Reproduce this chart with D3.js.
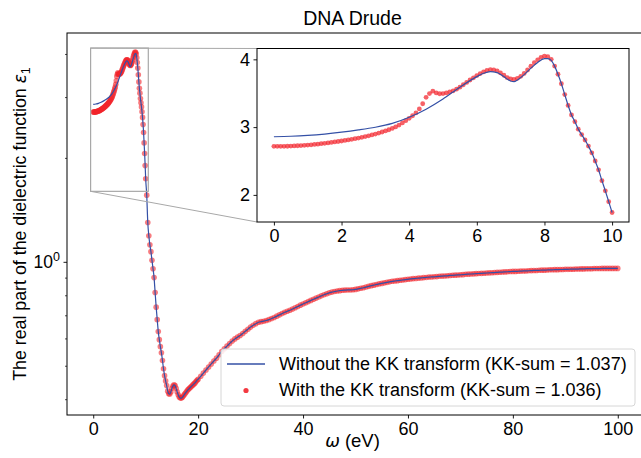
<!DOCTYPE html>
<html><head><meta charset="utf-8">
<script src="https://cdn.jsdelivr.net/npm/d3@7"></script>
<style>body{margin:0;background:#fff} svg{display:block} text{font-family:"Liberation Sans",Arial,sans-serif;fill:#000}</style>
</head><body><svg id="c" width="641" height="458"></svg>
<script>
const titleText = "DNA Drude";
const xTicks = [0, 20, 40, 60, 80, 100];
const yMajorTicks = [1];
const yMinorTicks = [0.4, 0.5, 0.6, 0.7, 0.8, 0.9, 2, 3, 4];
const insetXTicks = [0, 2, 4, 6, 8, 10];
const insetYTicks = [2, 3, 4];
const legendLabels = ["Without the KK transform (KK-sum = 1.037)", "With the KK transform (KK-sum = 1.036)"];

// With KK transform (dots)
const kkEnergy = [
 0.0,0.1,0.2,0.3,0.4,0.5,0.6,0.7,0.8,0.9,1.0,1.1,1.2,1.3,1.4,1.5,1.6,1.7,1.8,1.9,
 2.0,2.1,2.2,2.3,2.4,2.5,2.6,2.7,2.8,2.9,3.0,3.1,3.2,3.3,3.4,3.5,3.6,3.7,3.8,3.9,
 4.0,4.1,4.2,4.3,4.4,4.5,4.6,4.7,4.8,4.9,5.0,5.1,5.2,5.3,5.4,5.5,5.6,5.7,5.8,5.9,
 6.0,6.1,6.2,6.3,6.4,6.5,6.6,6.7,6.8,6.9,7.0,7.1,7.2,7.3,7.4,7.5,7.6,7.7,7.8,7.9,
 8.0,8.1,8.2,8.3,8.4,8.5,8.6,8.7,8.8,8.9,9.0,9.1,9.2,9.3,9.4,9.5,9.6,9.7,9.8,9.9,
 10.0,10.2,10.4,10.6,10.8,11.0,11.2,11.4,11.6,11.8,12.0,12.2,12.4,12.6,12.8,13.0,13.2,13.4,13.6,13.8,
 14.0,14.2,14.4,14.6,14.8,15.0,15.2,15.4,15.6,15.8,16.0,16.2,16.4,16.6,16.8,17.0,17.2,17.4,17.6,17.8,
 18.0,18.2,18.4,18.6,18.8,19.0,19.2,19.4,19.6,19.8,
 20.0,20.5,21.0,21.5,22.0,22.5,23.0,23.5,24.0,24.5,25.0,25.5,26.0,26.5,27.0,27.5,28.0,28.5,29.0,29.5,
 30.0,30.5,31.0,31.5,32.0,32.5,33.0,33.5,34.0,34.5,35.0,35.5,36.0,36.5,37.0,37.5,38.0,38.5,39.0,39.5,
 40.0,40.5,41.0,41.5,42.0,42.5,43.0,43.5,44.0,44.5,45.0,45.5,46.0,46.5,47.0,47.5,48.0,48.5,49.0,49.5,
 50.0,50.5,51.0,51.5,52.0,52.5,53.0,53.5,54.0,54.5,55.0,55.5,56.0,56.5,57.0,57.5,58.0,58.5,59.0,59.5,
 60.0,60.5,61.0,61.5,62.0,62.5,63.0,63.5,64.0,64.5,65.0,65.5,66.0,66.5,67.0,67.5,68.0,68.5,69.0,69.5,
 70.0,70.5,71.0,71.5,72.0,72.5,73.0,73.5,74.0,74.5,75.0,75.5,76.0,76.5,77.0,77.5,78.0,78.5,79.0,79.5,
 80.0,80.5,81.0,81.5,82.0,82.5,83.0,83.5,84.0,84.5,85.0,85.5,86.0,86.5,87.0,87.5,88.0,88.5,89.0,89.5,
 90.0,90.5,91.0,91.5,92.0,92.5,93.0,93.5,94.0,94.5,95.0,95.5,96.0,96.5,97.0,97.5,98.0,98.5,99.0,99.5,
 100.0];
const kkEps = [
 2.716,2.716,2.717,2.717,2.718,2.720,2.722,2.725,2.728,2.731,2.735,2.739,2.744,2.749,2.755,2.761,2.767,2.774,2.781,2.788,
 2.795,2.803,2.811,2.820,2.829,2.839,2.849,2.860,2.872,2.885,2.898,2.912,2.928,2.944,2.961,2.980,3.003,3.030,3.062,3.095,
 3.130,3.168,3.210,3.268,3.345,3.440,3.495,3.530,3.505,3.492,3.495,3.505,3.518,3.535,3.560,3.590,3.625,3.660,3.695,3.728,
 3.760,3.790,3.815,3.838,3.848,3.846,3.830,3.800,3.765,3.730,3.710,3.705,3.720,3.750,3.792,3.843,3.898,3.950,3.993,4.030,
 4.048,4.040,4.000,3.900,3.780,3.640,3.480,3.320,3.180,3.080,2.970,2.890,2.810,2.720,2.620,2.500,2.370,2.210,2.060,1.900,
 1.740,1.560,1.300,1.190,1.120,1.070,1.010,0.955,0.900,0.815,0.739,0.680,0.628,0.595,0.568,0.545,0.518,0.490,0.468,0.452,
 0.438,0.422,0.415,0.414,0.420,0.430,0.437,0.440,0.438,0.430,0.420,0.412,0.406,0.403,0.403,0.405,0.409,0.413,0.417,0.421,
 0.425,0.428,0.431,0.434,0.437,0.440,0.443,0.446,0.450,0.454,
 0.457,0.466,0.476,0.486,0.496,0.506,0.516,0.526,0.538,0.550,0.560,0.570,0.580,0.590,0.598,0.605,0.612,0.620,0.629,0.638,
 0.647,0.655,0.662,0.668,0.671,0.673,0.676,0.680,0.685,0.690,0.696,0.702,0.708,0.714,0.719,0.724,0.730,0.736,0.742,0.749,
 0.755,0.761,0.767,0.773,0.779,0.785,0.791,0.797,0.803,0.808,0.813,0.817,0.820,0.823,0.825,0.827,0.828,0.829,0.829,0.830,
 0.832,0.835,0.838,0.841,0.845,0.849,0.853,0.856,0.860,0.863,0.866,0.869,0.872,0.875,0.878,0.880,0.882,0.884,0.886,0.888,
 0.890,0.892,0.894,0.895,0.897,0.898,0.900,0.901,0.903,0.904,0.905,0.906,0.908,0.909,0.910,0.911,0.913,0.914,0.915,0.916,
 0.917,0.918,0.920,0.921,0.922,0.923,0.924,0.925,0.926,0.927,0.928,0.929,0.930,0.931,0.932,0.933,0.934,0.935,0.936,0.937,
 0.938,0.938,0.939,0.940,0.941,0.941,0.942,0.943,0.944,0.944,0.945,0.946,0.946,0.947,0.948,0.948,0.949,0.949,0.950,0.950,
 0.951,0.951,0.952,0.952,0.953,0.953,0.954,0.954,0.955,0.955,0.955,0.956,0.956,0.956,0.957,0.957,0.957,0.957,0.957,0.957,
 0.957];

// Without KK transform (line), low-energy part where it differs from the dots
const noKkEnergy = [0.0,0.5,1.0,1.5,2.0,2.5,3.0,3.5,4.0,4.5,5.0,5.5,6.0,6.2,6.4,6.6,6.8,7.0,7.1,7.2,7.4,7.6,7.8,8.0,8.1,8.2];
const noKkEps    = [2.858,2.865,2.878,2.898,2.925,2.958,2.998,3.055,3.145,3.265,3.415,3.590,3.745,3.795,3.820,3.805,3.745,3.680,3.672,3.695,3.775,3.870,3.955,4.010,4.012,3.985];

const kkData = kkEnergy.map((e, i) => ({e, v: kkEps[i]}));
const noKkData = noKkEnergy.map((e, i) => ({e, v: noKkEps[i]}))
  .concat(kkData.filter(d => d.e > 8.25));

const blue = "#3450a6", red = "#f2242c";
const FONT = '"Liberation Sans",Arial,sans-serif';
const svg = d3.select("#c");

// ---------- main axes ----------
const M = {l: 67, r: 644, t: 33, b: 415};
const x = d3.scaleLinear().domain([-5, 105]).range([M.l, M.r]);
const y = d3.scaleLog().domain([0.36, 4.6]).range([M.b, M.t]);

const defs = svg.append("defs");
defs.append("clipPath").attr("id", "mainClip").append("rect")
  .attr("x", M.l).attr("y", M.t).attr("width", M.r - M.l).attr("height", M.b - M.t);

const plot = svg.append("g").attr("clip-path", "url(#mainClip)");
plot.append("g").selectAll("circle").data(kkData).join("circle")
  .attr("cx", d => x(d.e)).attr("cy", d => y(d.v)).attr("r", 2.8)
  .attr("fill", red).attr("fill-opacity", 0.6);
const lineMain = d3.line().x(d => x(d.e)).y(d => y(d.v)).curve(d3.curveMonotoneX);
plot.append("path").datum(noKkData).attr("d", lineMain)
  .attr("fill", "none").attr("stroke", blue).attr("stroke-width", 1.2);

// x axis
const xAxis = svg.append("g").attr("transform", `translate(0,${M.b})`)
  .call(d3.axisBottom(x).tickValues(xTicks).tickSize(3.5).tickPadding(3.5).tickFormat(d3.format("d")));
xAxis.select(".domain").remove();
xAxis.selectAll("text").attr("font-size", 18).style("font-family", FONT);
xAxis.selectAll("line").attr("stroke-width", 0.9);

// y axis minor
const yMin = svg.append("g").attr("transform", `translate(${M.l},0)`)
  .call(d3.axisLeft(y).tickValues(yMinorTicks).tickSize(2).tickFormat(""));
yMin.select(".domain").remove();
yMin.selectAll("line").attr("stroke-width", 0.7);
const yMaj = svg.append("g").attr("transform", `translate(${M.l},0)`)
  .call(d3.axisLeft(y).tickValues(yMajorTicks).tickSize(3.5).tickFormat(""));
yMaj.select(".domain").remove();
yMaj.selectAll("line").attr("stroke-width", 0.9);
yMajorTicks.forEach(t => {
  const tx = svg.append("text").attr("x", 60).attr("y", y(t) + 6.5).attr("text-anchor", "end").attr("font-size", 17.5);
  tx.append("tspan").text("10");
  tx.append("tspan").attr("dy", -7.5).attr("font-size", 12.5).text("0");
});

// spines
svg.append("rect").attr("x", M.l).attr("y", M.t).attr("width", M.r - M.l).attr("height", M.b - M.t)
  .attr("fill", "none").attr("stroke", "#000").attr("stroke-width", 1);

// labels
svg.append("text").attr("x", (M.l + M.r) / 2 - 3).attr("y", 25).attr("text-anchor", "middle")
  .attr("font-size", 19.5).text(titleText);
const xl = svg.append("text").attr("x", (M.l + M.r) / 2 - 3).attr("y", 447).attr("text-anchor", "middle").attr("font-size", 18.5);
xl.append("tspan").attr("font-style", "italic").style("font-family", '"DejaVu Sans"').attr("font-size", 17.5).text("ω");
xl.append("tspan").text(" (eV)");
const yl = svg.append("text").attr("transform", `translate(26,${(M.t + M.b) / 2}) rotate(-90)`)
  .attr("text-anchor", "middle").attr("font-size", 17.8);
yl.append("tspan").text("The real part of the dielectric function ");
yl.append("tspan").attr("font-style", "italic").style("font-family", '"DejaVu Sans"').attr("font-size", 17).text("ε");
yl.append("tspan").attr("dy", 4).attr("font-size", 12.5).text("1");

// ---------- inset ----------
const I = {l: 257, r: 629, t: 48.5, b: 222};
const ix = d3.scaleLinear().domain([-0.5, 10.5]).range([I.l, I.r]);
const iy = d3.scaleLinear().domain([1.6, 4.16]).range([I.b, I.t]);

// indicator rectangle and connectors in main axes
const rx0 = x(-0.5), rx1 = x(10.5), ry0 = y(4.16), ry1 = y(1.6);
svg.append("rect").attr("x", rx0).attr("y", ry0).attr("width", rx1 - rx0).attr("height", ry1 - ry0)
  .attr("fill", "none").attr("stroke", "#a8a8a8").attr("stroke-width", 1.2);
svg.append("line").attr("x1", rx0).attr("y1", ry0).attr("x2", I.l).attr("y2", I.t)
  .attr("stroke", "#a8a8a8").attr("stroke-width", 1);
svg.append("line").attr("x1", rx0).attr("y1", ry1).attr("x2", I.l).attr("y2", I.b)
  .attr("stroke", "#a8a8a8").attr("stroke-width", 1);

svg.append("rect").attr("x", I.l).attr("y", I.t).attr("width", I.r - I.l).attr("height", I.b - I.t).attr("fill", "#fff");
defs.append("clipPath").attr("id", "insetClip").append("rect")
  .attr("x", I.l).attr("y", I.t).attr("width", I.r - I.l).attr("height", I.b - I.t);
const ip = svg.append("g").attr("clip-path", "url(#insetClip)");
ip.append("g").selectAll("circle").data(kkData.filter(d => d.e <= 10.05)).join("circle")
  .attr("cx", d => ix(d.e)).attr("cy", d => iy(d.v)).attr("r", 2.4)
  .attr("fill", red).attr("fill-opacity", 0.72);
const lineInset = d3.line().x(d => ix(d.e)).y(d => iy(d.v)).curve(d3.curveMonotoneX);
ip.append("path").datum(noKkData.filter(d => d.e <= 10.05)).attr("d", lineInset)
  .attr("fill", "none").attr("stroke", blue).attr("stroke-width", 1.2);

const ixa = svg.append("g").attr("transform", `translate(0,${I.b})`)
  .call(d3.axisBottom(ix).tickValues(insetXTicks).tickSize(3.5).tickPadding(3.5).tickFormat(d3.format("d")));
ixa.select(".domain").remove();
ixa.selectAll("text").attr("font-size", 18).style("font-family", FONT);
ixa.selectAll("line").attr("stroke-width", 0.9);
const iya = svg.append("g").attr("transform", `translate(${I.l},0)`)
  .call(d3.axisLeft(iy).tickValues(insetYTicks).tickSize(3.5).tickPadding(3.5).tickFormat(d3.format("d")));
iya.select(".domain").remove();
iya.selectAll("text").attr("font-size", 18).style("font-family", FONT);
iya.selectAll("line").attr("stroke-width", 0.9);
svg.append("rect").attr("x", I.l).attr("y", I.t).attr("width", I.r - I.l).attr("height", I.b - I.t)
  .attr("fill", "none").attr("stroke", "#000").attr("stroke-width", 1);

// ---------- legend ----------
const lg = svg.append("g");
lg.append("rect").attr("x", 221).attr("y", 349).attr("width", 414).attr("height", 57).attr("rx", 3)
  .attr("fill", "#fff").attr("fill-opacity", 0.85).attr("stroke", "#d6d6d6").attr("stroke-width", 1);
lg.append("line").attr("x1", 227).attr("x2", 265).attr("y1", 364).attr("y2", 364)
  .attr("stroke", blue).attr("stroke-width", 1.6);
lg.append("circle").attr("cx", 246).attr("cy", 390.5).attr("r", 2.6).attr("fill", red).attr("fill-opacity", 0.9);
lg.append("text").attr("x", 279).attr("y", 369.5).attr("font-size", 18).text(legendLabels[0]);
lg.append("text").attr("x", 279).attr("y", 395.8).attr("font-size", 18).text(legendLabels[1]);
</script></body></html>
